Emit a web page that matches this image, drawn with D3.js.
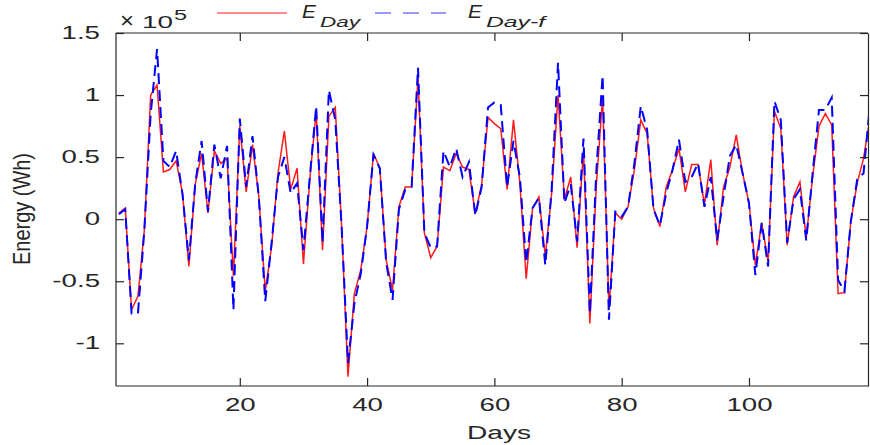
<!DOCTYPE html>
<html>
<head>
<meta charset="utf-8">
<script src="https://cdn.jsdelivr.net/npm/d3@7.9.0/dist/d3.min.js"></script>
<style>
  body { margin: 0; background: #fff; }
  text { font-family: "Liberation Sans", Arial, sans-serif; fill: #262626; }
</style>
</head>
<body>
<svg id="chart" width="870" height="445"></svg>
<script>
// values in units of 1e5 Wh, one per day starting at day 1
const eDay = [
  0.05, 0.09, -0.73, -0.62, -0.09, 1.0, 1.08, 0.38, 0.40, 0.47,
  0.21, -0.38, 0.28, 0.53, 0.05, 0.55, 0.45, 0.49, -0.46, 0.75,
  0.22, 0.60, 0.18, -0.58, -0.22, 0.37, 0.71, 0.24, 0.41, -0.36,
  0.32, 0.87, -0.25, 0.83, 0.90, -0.06, -1.27, -0.60, -0.41, -0.06,
  0.53, 0.41, -0.33, -0.57, 0.10, 0.26, 0.26, 1.14, -0.11, -0.31,
  -0.22, 0.42, 0.39, 0.53, 0.42, 0.40, 0.04, 0.28, 0.82, 0.77,
  0.73, 0.24, 0.80, 0.29, -0.48, 0.09, 0.18, -0.30, 0.21, 1.0,
  0.16, 0.34, -0.23, 0.56, -0.84, 0.26, 0.98, -0.73, 0.05, 0.0,
  0.10, 0.40, 0.80, 0.69, 0.09, -0.06, 0.26, 0.40, 0.57, 0.22,
  0.44, 0.44, 0.12, 0.48, -0.21, 0.26, 0.42, 0.68, 0.37, 0.13,
  -0.37, -0.03, -0.34, 0.87, 0.73, -0.21, 0.18, 0.30, -0.15, 0.34,
  0.75, 0.85, 0.76, -0.60, -0.59, -0.02, 0.29, 0.49, 0.81
];
const eDayF = [
  0.04, 0.08, -0.76, -0.76, -0.09, 0.85, 1.37, 0.47, 0.42, 0.55,
  0.20, -0.33, 0.29, 0.63, 0.06, 0.60, 0.33, 0.59, -0.73, 0.81,
  0.26, 0.67, 0.17, -0.66, -0.19, 0.34, 0.50, 0.21, 0.29, -0.25,
  0.34, 0.91, -0.19, 1.04, 0.80, -0.06, -1.16, -0.68, -0.44, -0.06,
  0.52, 0.41, -0.35, -0.65, 0.08, 0.24, 0.26, 1.22, -0.11, -0.23,
  -0.22, 0.55, 0.42, 0.57, 0.34, 0.46, 0.03, 0.26, 0.90, 0.94,
  0.92, 0.26, 0.63, 0.34, -0.35, 0.09, 0.17, -0.37, 0.24, 1.26,
  0.13, 0.28, -0.18, 0.65, -0.76, 0.37, 1.16, -0.81, 0.06, 0.02,
  0.10, 0.45, 0.91, 0.72, 0.08, -0.05, 0.21, 0.40, 0.64, 0.30,
  0.34, 0.45, 0.10, 0.34, -0.17, 0.18, 0.51, 0.60, 0.37, 0.13,
  -0.45, -0.03, -0.38, 0.95, 0.80, -0.19, 0.16, 0.24, -0.17, 0.37,
  0.88, 0.88, 0.98, -0.49, -0.58, -0.02, 0.32, 0.37, 0.92
];
const xTicks = [20, 40, 60, 80, 100];
const yTicks = [-1, -0.5, 0, 0.5, 1, 1.5];

const svg = d3.select('#chart');
const plotLeft = 116, plotRight = 868, plotTop = 33, plotBottom = 386;

const x = d3.scaleLinear().domain([0.55, 118.7]).range([plotLeft, plotRight]);
const y = d3.scaleLinear().domain([-1.344, 1.5]).range([plotBottom, plotTop]);

// the source picture is stretched sideways, so text is widened to match
function stretch(sel, k) {
  sel.each(function () {
    const w = this.getComputedTextLength();
    d3.select(this).attr('textLength', w * k).attr('lengthAdjust', 'spacingAndGlyphs');
  });
}

svg.append('defs').append('clipPath').attr('id', 'clip')
  .append('rect')
  .attr('x', plotLeft).attr('y', plotTop)
  .attr('width', plotRight - plotLeft).attr('height', plotBottom - plotTop);

const line = d3.line()
  .x((d, i) => x(i + 1))
  .y((d) => y(d));

const plot = svg.append('g').attr('clip-path', 'url(#clip)');
plot.append('path')
  .datum(eDay)
  .attr('d', line)
  .attr('fill', 'none')
  .attr('stroke', '#ff1a1a')
  .attr('stroke-width', 1.5);
plot.append('path')
  .datum(eDayF)
  .attr('d', line)
  .attr('fill', 'none')
  .attr('stroke', '#0000ff')
  .attr('stroke-width', 2)
  .attr('stroke-dasharray', '11,6');

// axes, ticks pointing inward like matlab
const xAxis = svg.append('g')
  .attr('transform', `translate(0,${plotBottom})`)
  .call(d3.axisBottom(x).tickValues(xTicks).tickSizeInner(-8).tickSizeOuter(0).tickPadding(13));
const xAxisTop = svg.append('g')
  .attr('transform', `translate(0,${plotTop})`)
  .call(d3.axisTop(x).tickValues(xTicks).tickSizeInner(-8).tickSizeOuter(0).tickFormat(''));
const yAxis = svg.append('g')
  .attr('transform', `translate(${plotLeft},0)`)
  .call(d3.axisLeft(y).tickValues(yTicks).tickSizeInner(-8).tickSizeOuter(0).tickPadding(16)
    .tickFormat((d) => d));
const yAxisRight = svg.append('g')
  .attr('transform', `translate(${plotRight},0)`)
  .call(d3.axisRight(y).tickValues(yTicks).tickSizeInner(-8).tickSizeOuter(0).tickFormat(''));

[xAxis, xAxisTop, yAxis, yAxisRight].forEach((g) => {
  g.selectAll('path.domain').attr('stroke', '#262626').attr('stroke-width', 1.2);
  g.selectAll('.tick line').attr('stroke', '#262626').attr('stroke-width', 1.2);
  g.selectAll('.tick text')
    .style('font-family', '"Liberation Sans", Arial, sans-serif')
    .style('font-size', '17.5px')
    .attr('fill', '#262626');
});
yAxis.select('path.domain').attr('d', `M0,${plotTop}V${plotBottom}`);
xAxis.select('path.domain').attr('d', `M${plotLeft},0H${plotRight}`);
xAxisTop.select('path.domain').attr('d', `M${plotLeft},0H${plotRight}`);
stretch(xAxis.selectAll('.tick text'), 1.58);
stretch(yAxis.selectAll('.tick text'), 1.58);

// exponent label
svg.append('text').attr('x', 120).attr('y', 28).style('font-size', '22px')
  .attr('textLength', 14).attr('lengthAdjust', 'spacingAndGlyphs').text('\u00d7');
svg.append('text').attr('x', 142).attr('y', 27.5).style('font-size', '16px')
  .attr('textLength', 31).attr('lengthAdjust', 'spacingAndGlyphs').text('10');
svg.append('text').attr('x', 174).attr('y', 20).style('font-size', '14px')
  .attr('textLength', 13).attr('lengthAdjust', 'spacingAndGlyphs').text('5');

// axis titles
const xTitle = svg.append('text')
  .attr('x', 499).attr('y', 439)
  .attr('text-anchor', 'middle')
  .style('font-size', '18px')
  .text('Days');
stretch(xTitle, 1.56);

const yTitle = svg.append('text')
  .attr('transform', 'translate(30,209) rotate(-90) scale(1,1.19)')
  .attr('text-anchor', 'middle')
  .style('font-size', '20px')
  .attr('textLength', 112).attr('lengthAdjust', 'spacingAndGlyphs')
  .text('Energy (Wh)');

// legend
const legend = svg.append('g');
legend.append('line')
  .attr('x1', 217).attr('x2', 287).attr('y1', 13).attr('y2', 13)
  .attr('stroke', '#ff1a1a').attr('stroke-width', 1.2);
legend.append('line')
  .attr('x1', 375).attr('x2', 446).attr('y1', 13).attr('y2', 13)
  .attr('stroke', '#3333ff').attr('stroke-width', 1.2)
  .attr('stroke-dasharray', '16,12');

function legendLabel(xPos, sub, subLen) {
  legend.append('text').attr('x', xPos).attr('y', 18.3)
    .style('font-size', '18px').style('font-style', 'italic')
    .attr('textLength', 14).attr('lengthAdjust', 'spacingAndGlyphs')
    .text('E');
  legend.append('text').attr('x', xPos + 18).attr('y', 27.4)
    .style('font-size', '15px').style('font-style', 'italic')
    .attr('textLength', subLen).attr('lengthAdjust', 'spacingAndGlyphs')
    .text(sub);
}
legendLabel(302, 'Day', 40);
legendLabel(468, 'Day-f', 59);
</script>
</body>
</html>
